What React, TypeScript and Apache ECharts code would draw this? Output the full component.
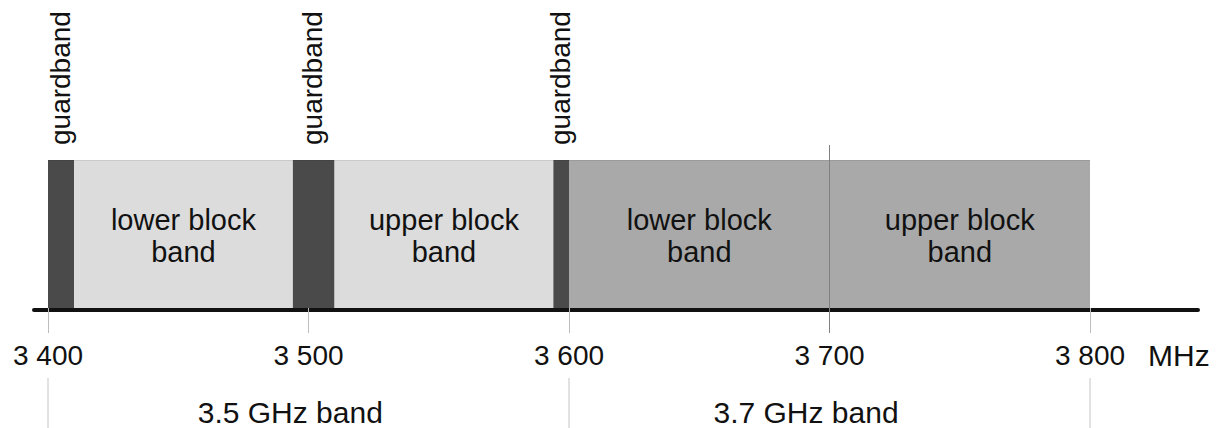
import React, { useEffect, useRef } from "react";
import * as echarts from "echarts";

// ---- data ----
const blockStarts = [3400, 3410, 3494, 3510, 3594, 3600, 3700];
const blockEnds = [3410, 3494, 3510, 3594, 3600, 3700, 3800];
const blockKinds = ["guard", "light", "guard", "light", "guard", "mid", "mid"];
const blockLabels = ["guardband", "lower block\nband", "guardband", "upper block\nband", "guardband", "lower block\nband", "upper block\nband"];
const tickValues = [3400, 3500, 3600, 3700, 3800];
const dividerValues = [3700];
const bandEdges = [3400, 3600, 3800];
const bandLabels = ["3.5 GHz band", "3.7 GHz band"];
const bandLabelCenters = [3493, 3691];
const unitLabel = "MHz";

const FONT = "'Liberation Sans', Arial, sans-serif";
const TEXT = "#111111";
const kindColors: Record<string, string> = {
  guard: "#4a4a4a",
  light: "#dcdcdc",
  mid: "#a9a9a9",
};

export default function App() {
  const ref = useRef<HTMLDivElement>(null);

  useEffect(() => {
    if (!ref.current) return;
    const chart = echarts.init(ref.current, undefined, { renderer: "svg" });

    const blockData = blockStarts.map((s, i) => [s, blockEnds[i], i]);

    const option: any = {
      animation: false,
      backgroundColor: "#ffffff",
      grid: [
        { left: 48, width: 1042, top: 160, height: 148 },
        { left: 34, right: 23, top: 162, height: 148 },
      ],
      xAxis: [
        {
          type: "value",
          gridIndex: 0,
          min: 3400,
          max: 3800,
          interval: 100,
          axisLine: { show: false },
          splitLine: { show: false },
          axisTick: { show: true, length: 25, lineStyle: { color: "#bdbdbd", width: 1 } },
          axisLabel: {
            show: true,
            margin: 33,
            fontSize: 28,
            fontFamily: FONT,
            color: TEXT,
            formatter: (v: number) =>
              tickValues.includes(v) ? String(v).replace(/(\d)(\d{3})$/, "$1 $2") : "",
          },
          name: unitLabel,
          nameLocation: "end",
          nameGap: 58,
          nameTextStyle: {
            fontSize: 30,
            fontFamily: FONT,
            color: TEXT,
            align: "left",
            verticalAlign: "top",
            padding: [32, 0, 0, 0],
          },
        },
        {
          type: "value",
          gridIndex: 1,
          min: 0,
          max: 1,
          axisLine: { show: true, lineStyle: { color: "#111111", width: 4 } },
          axisTick: { show: false },
          axisLabel: { show: false },
          splitLine: { show: false },
        },
      ],
      yAxis: [
        { type: "value", gridIndex: 0, min: 0, max: 1, show: false },
        { type: "value", gridIndex: 1, min: 0, max: 1, show: false },
      ],
      series: [
        {
          type: "custom",
          xAxisIndex: 0,
          yAxisIndex: 0,
          clip: false,
          data: blockData,
          renderItem: (params: any, api: any) => {
            const s = api.value(0);
            const e = api.value(1);
            const idx = params.dataIndex;
            const kind = blockKinds[idx];
            const p0 = api.coord([s, 1]);
            const p1 = api.coord([e, 0]);
            const children: any[] = [
              {
                type: "rect",
                shape: { x: p0[0], y: p0[1], width: p1[0] - p0[0], height: p1[1] - p0[1] },
                style: { fill: kindColors[kind] },
              },
              {
                type: "line",
                shape: { x1: p0[0], y1: p0[1] + 0.5, x2: p1[0], y2: p0[1] + 0.5 },
                style: { stroke: "rgba(0,0,0,0.08)", lineWidth: 1 },
              },
            ];
            const cx = (p0[0] + p1[0]) / 2;
            if (kind === "guard") {
              children.push({
                type: "text",
                x: cx - 1,
                y: p0[1] - 15,
                rotation: Math.PI / 2,
                style: {
                  text: blockLabels[idx],
                  fontSize: 28,
                  fontFamily: FONT,
                  fill: TEXT,
                  align: "left",
                  verticalAlign: "middle",
                },
              });
            } else {
              children.push({
                type: "text",
                x: cx,
                y: (p0[1] + p1[1]) / 2 + 2,
                style: {
                  text: blockLabels[idx],
                  fontSize: 29,
                  lineHeight: 32,
                  fontFamily: FONT,
                  fill: TEXT,
                  align: "center",
                  verticalAlign: "middle",
                },
              });
            }
            return { type: "group", children };
          },
          z: 2,
        },
        {
          type: "custom",
          xAxisIndex: 0,
          yAxisIndex: 0,
          clip: false,
          data: dividerValues.map((v) => [v]),
          renderItem: (params: any, api: any) => {
            const top = api.coord([api.value(0), 1]);
            const bot = api.coord([api.value(0), 0]);
            return {
              type: "line",
              shape: { x1: top[0], y1: top[1] - 15, x2: bot[0], y2: bot[1] + 25 },
              style: { stroke: "#808080", lineWidth: 1 },
            };
          },
          z: 3,
        },
        {
          type: "custom",
          xAxisIndex: 0,
          yAxisIndex: 0,
          clip: false,
          data: bandEdges.map((v) => [v]),
          renderItem: (params: any, api: any) => {
            const bot = api.coord([api.value(0), 0]);
            return {
              type: "line",
              shape: { x1: bot[0], y1: bot[1] + 70, x2: bot[0], y2: bot[1] + 125 },
              style: { stroke: "#c4c4c4", lineWidth: 1 },
            };
          },
          z: 3,
        },
        {
          type: "custom",
          xAxisIndex: 0,
          yAxisIndex: 0,
          clip: false,
          data: bandLabelCenters.map((v, i) => [v, i]),
          renderItem: (params: any, api: any) => {
            const bot = api.coord([api.value(0), 0]);
            return {
              type: "text",
              x: bot[0],
              y: bot[1] + 104,
              style: {
                text: bandLabels[params.dataIndex],
                fontSize: 30,
                fontFamily: FONT,
                fill: TEXT,
                align: "center",
                verticalAlign: "middle",
              },
            };
          },
          z: 3,
        },
      ],
    };

    chart.setOption(option);
    return () => chart.dispose();
  }, []);

  return (
    <div
      ref={ref}
      style={{ position: "fixed", left: 0, top: 0, width: 1221, height: 428, background: "#fff" }}
    />
  );
}
